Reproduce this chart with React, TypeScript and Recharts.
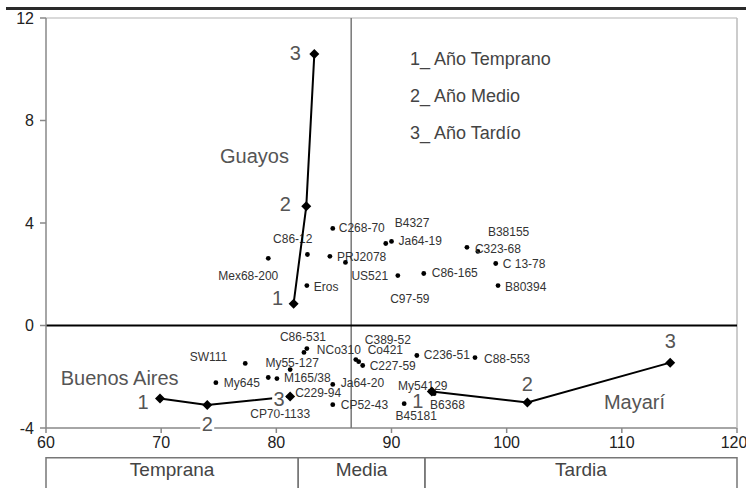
import React from 'react';
import { ScatterChart, Scatter, XAxis, YAxis, ReferenceLine, ReferenceArea, Legend } from 'recharts';

const FONT = '"Liberation Sans", Arial, sans-serif';

// cultivares: ciclo (x) e índice (y)
const cultivarNames = [
  'C268-70', 'B4327', 'Ja64-19', 'C86-12', 'Mex68-200', 'PRJ2078', 'US521', 'Eros', 'C97-59',
  'C86-165', 'B38155', 'C323-68', 'C 13-78', 'B80394',
  'C86-531', 'NCo310', 'My55-127', 'SW111', 'My645', 'M165/38', '', 'CP70-1133', 'C229-94',
  'Ja64-20', 'CP52-43', 'C389-52', 'Co421', 'C227-59', 'C236-51', 'C88-553', 'My54129', 'B6368', 'B45181',
];
const cultivarX = [
  84.9, 89.5, 90.0, 82.7, 79.3, 84.65, 86.0, 82.65, 90.55,
  92.8, 96.55, 97.5, 99.05, 99.25,
  82.4, 82.65, 81.2, 77.3, 74.75, 80.05, 79.3, 81.2, 81.2,
  84.9, 84.9, 86.9, 87.15, 87.5, 92.2, 97.25, 93.5, 93.7, 91.1,
];
const cultivarY = [
  3.79, 3.2, 3.28, 2.77, 2.62, 2.7, 2.46, 1.56, 1.95,
  2.03, 3.05, 2.89, 2.42, 1.56,
  -1.05, -0.9, -1.72, -1.48, -2.23, -2.07, -2.03, -2.77, -2.77,
  -2.3, -3.09, -1.33, -1.41, -1.56, -1.17, -1.25, -2.54, -2.66, -3.05,
];

// localidades: años 1, 2, 3
const yearLabels = ['1', '2', '3'];
const guayosX = [81.5, 82.6, 83.3];
const guayosY = [0.85, 4.65, 10.6];
const buenosAiresX = [69.9, 74.0, 81.2];
const buenosAiresY = [-2.85, -3.1, -2.77];
const mayariX = [93.5, 101.8, 114.2];
const mayariY = [-2.58, -3.0, -1.45];

const placeNames = ['Guayos', 'Buenos Aires', 'Mayarí'];
const placeNameX = [78.1, 66.4, 111.1];
const placeNameY = [6.6, -2.03, -3.0];

const legendItems = ['1_ Año Temprano', '2_ Año Medio', '3_ Año Tardío'];
const groupNames = ['Temprana', 'Media', 'Tardia'];
const groupBounds = [60, 81.9, 92.9, 120];
const xTicks = [60, 70, 80, 90, 100, 110, 120];
const yTicks = [-4, 0, 4, 8, 12];

const cultivars = cultivarNames.map((name, i) => ({ name, x: cultivarX[i], y: cultivarY[i] }));
const toSeries = (place: string, xs: number[], ys: number[]) =>
  xs.map((x, i) => ({ place, year: yearLabels[i], x, y: ys[i] }));
const guayos = toSeries('Guayos', guayosX, guayosY);
const buenosAires = toSeries('Buenos Aires', buenosAiresX, buenosAiresY);
const mayari = toSeries('Mayarí', mayariX, mayariY);
const places = placeNames.map((name, i) => ({ name, x: placeNameX[i], y: placeNameY[i] }));

// label placement [anchor, dx, dy] relative to the dot
const cultivarLabelPos: Record<string, [string, number, number]> = {
  'C268-70': ['start', 6, 0],
  B4327: ['start', 9, -21],
  'Ja64-19': ['start', 7, 0],
  'C86-12': ['end', 5, -16],
  'Mex68-200': ['end', 10, 18],
  PRJ2078: ['start', 7, 1],
  US521: ['start', 6, 14],
  Eros: ['start', 7, 1],
  'C97-59': ['middle', 12, 23],
  'C86-165': ['start', 8, 0],
  B38155: ['start', 21, -15],
  'C323-68': ['start', -3, -2],
  'C 13-78': ['start', 7, 1],
  B80394: ['start', 7, 1],
  'C86-531': ['middle', -1, -15],
  NCo310: ['start', 10, 1],
  'My55-127': ['middle', 2, -7],
  SW111: ['end', -18, -6],
  My645: ['start', 8, 0],
  'M165/38': ['start', 7, -1],
  'CP70-1133': ['middle', -10, 18],
  'C229-94': ['start', 5, -3],
  'Ja64-20': ['start', 8, -1],
  'CP52-43': ['start', 8, 0],
  'C389-52': ['start', 9, -20],
  Co421: ['start', 9, -12],
  'C227-59': ['start', 7, 1],
  'C236-51': ['start', 7, 0],
  'C88-553': ['start', 9, 1],
  My54129: ['middle', -9, -5],
  B6368: ['start', -4, 11],
  B45181: ['middle', 12, 12],
};

const yearLabelPos: Record<string, [number, number]> = {
  'Guayos-1': [-16, -6],
  'Guayos-2': [-21, -2],
  'Guayos-3': [-19, -1],
  'Buenos Aires-1': [-17, 3],
  'Buenos Aires-2': [0, 19],
  'Buenos Aires-3': [-11, 3],
  'Mayarí-1': [-14, 9],
  'Mayarí-2': [0, -18],
  'Mayarí-3': [0, -22],
};

const CultivarDot = (props: any) => {
  const { cx, cy, payload } = props;
  const pos = cultivarLabelPos[payload.name] ?? ['start', 6, 0];
  return (
    <g>
      <circle cx={cx} cy={cy} r={2.4} fill="#000" />
      {payload.name && (
        <text x={cx + pos[1]} y={cy + pos[2]} textAnchor={pos[0] as any} dominantBaseline="central"
          fontSize={12} fill="#333" fontFamily={FONT}>{payload.name}</text>
      )}
    </g>
  );
};

const YearPoint = (props: any) => {
  const { cx, cy, payload } = props;
  const [dx, dy] = yearLabelPos[`${payload.place}-${payload.year}`] ?? [0, -18];
  return (
    <g>
      <rect x={cx + dx - 7} y={cy + dy - 10} width={14} height={20} fill="#fff" />
      <text x={cx + dx} y={cy + dy} textAnchor="middle" dominantBaseline="central"
        fontSize={20} fill="#555" fontFamily={FONT}>{payload.year}</text>
      <polygon points={`${cx},${cy - 5} ${cx + 5},${cy} ${cx},${cy + 5} ${cx - 5},${cy}`} fill="#000" />
    </g>
  );
};

const PlaceName = (props: any) => {
  const { cx, cy, payload } = props;
  return (
    <text x={cx} y={cy} textAnchor="middle" dominantBaseline="central" fontSize={20} fill="#555" fontFamily={FONT}>
      {payload.name}
    </text>
  );
};

const lineStyle = { stroke: '#000', strokeWidth: 2 };

export default function App() {
  return (
    <div style={{ position: 'absolute', left: 0, top: 0, width: 746, height: 488, background: '#fff' }}>
      <div style={{ position: 'absolute', left: 6, top: 7, width: 740, height: 3, background: '#2a2a2a' }} />
      <ScatterChart width={746} height={488} margin={{ top: 18, right: 9, bottom: 30, left: 0 }}>
        <XAxis type="number" dataKey="x" domain={[60, 120]} ticks={xTicks}
          tickSize={5} tickMargin={4} height={30}
          axisLine={false} tickLine={{ stroke: '#888', strokeWidth: 1.5 }}
          tick={{ fill: '#222', fontSize: 16, fontFamily: FONT }} />
        <YAxis type="number" dataKey="y" domain={[-4, 12]} ticks={yTicks} width={46}
          tickSize={6} tickMargin={6}
          axisLine={{ stroke: '#888', strokeWidth: 1.5 }} tickLine={{ stroke: '#888', strokeWidth: 1.5 }}
          tick={{ fill: '#222', fontSize: 16, fontFamily: FONT }} />
        <ReferenceLine y={-4} stroke="#888" strokeWidth={1.5} />
        <ReferenceLine y={12} stroke="#ccc" strokeWidth={1.5} />
        <ReferenceLine x={120} stroke="#bbb" strokeWidth={1.5} />
        <ReferenceLine x={86.5} stroke="#777" strokeWidth={1.5} />
        <ReferenceLine y={0} stroke="#000" strokeWidth={2} />
        {groupNames.map((g, i) => (
          <ReferenceArea key={g} x1={groupBounds[i]} x2={groupBounds[i + 1]} y1={-6.8} y2={-5.16}
            ifOverflow="visible" fill="none" fillOpacity={0} stroke="#777" strokeWidth={1.5}
            label={{ value: g, position: 'insideTop', offset: 5, fill: '#444', fontSize: 19, fontFamily: FONT }} />
        ))}
        <Scatter name="cultivares" data={cultivars} shape={CultivarDot} isAnimationActive={false} />
        <Scatter name="Guayos" data={guayos} line={lineStyle} shape={YearPoint} isAnimationActive={false} />
        <Scatter name="Buenos Aires" data={buenosAires} line={lineStyle} shape={YearPoint} isAnimationActive={false} />
        <Scatter name="Mayarí" data={mayari} line={lineStyle} shape={YearPoint} isAnimationActive={false} />
        <Scatter name="localidades" data={places} shape={PlaceName} isAnimationActive={false} />
        <Legend layout="horizontal" verticalAlign="middle" align="center"
          wrapperStyle={{ left: 410, top: 41, width: 240 }}
          content={() => (
            <div style={{ fontFamily: FONT, fontSize: 18, color: '#444', lineHeight: '37px' }}>
              {legendItems.map((t) => <div key={t}>{t}</div>)}
            </div>
          )} />
      </ScatterChart>
    </div>
  );
}
